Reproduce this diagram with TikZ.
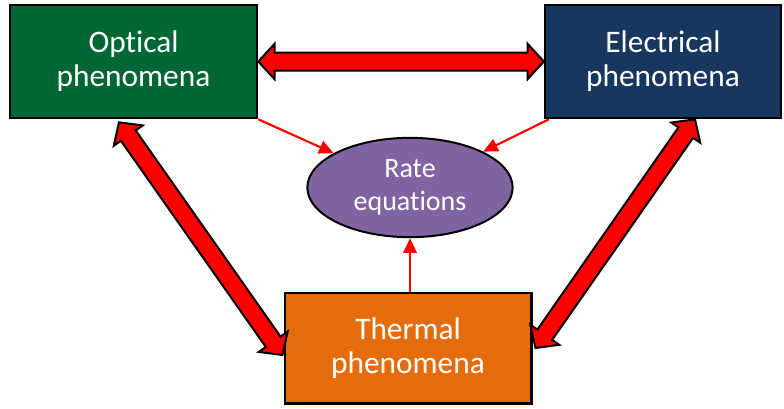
\documentclass[tikz,border=0pt]{standalone}
\usepackage{fontspec}
\setmainfont[RawFeature={-liga;-clig;-calt}]{Carlito}
\usetikzlibrary{shapes.geometric,shapes.arrows,arrows.meta,calc}

\definecolor{optgreen}{RGB}{0,102,51}
\definecolor{elenavy}{RGB}{23,55,94}
\definecolor{thermorange}{RGB}{228,108,10}
\definecolor{ratepurple}{RGB}{128,100,162}

\newcommand{\linkarrow}[2]{%
    \path let \p1=($(#2)-(#1)$), \n1={veclen(\x1,\y1)}, \n2={atan2(\y1,\x1)}
        in node[bigarrow, minimum height=\n1, rotate=\n2] at ($(#1)!0.5!(#2)$) {};}

\begin{document}
\begin{tikzpicture}[x=0.75pt, y=-0.75pt,
        box/.style={draw=black, line width=1.75pt, text=white, align=center,
                    font=\fontsize{23.5}{25.5}\selectfont, inner sep=0pt},
        rate/.style={ellipse, draw=black, line width=1.5pt, fill=ratepurple,
                     text=white, align=center, inner sep=0pt,
                     font=\fontsize{21}{24.75}\selectfont},
        bigarrow/.style={double arrow, draw=black, line width=1.5pt, fill=red,
                         inner xsep=0pt, inner ysep=6pt,
                         double arrow head extend=6.5pt, double arrow tip angle=95},
        feed/.style={red, line width=1.6pt, -{Triangle[length=11pt,width=10pt]}}
    ]
    \useasboundingbox (0,0) rectangle (784,408);

    \node[box, fill=optgreen, minimum width=185.5pt, minimum height=85pt] (opt) at (133.5,61.5) {Optical\\phenomena};
    \node[box, fill=elenavy, minimum width=177pt, minimum height=85pt] (ele) at (663,61.5) {Electrical\\phenomena};
    \node[box, fill=thermorange, minimum width=185pt, minimum height=83pt] (therm) at (408,348) {Thermal\\phenomena};
    \node[rate, minimum width=154pt, minimum height=74.5pt] (eq) at (410,187.5) {Rate\\equations};

    \coordinate (optb) at ([xshift=-10.9pt,yshift=-2.25pt]opt.south);
    \coordinate (thl) at ([xshift=-0.75pt,yshift=-5.25pt]therm.west);
    \coordinate (eleb) at ([xshift=24pt]ele.south);
    \coordinate (thr) at ([xshift=2.25pt]therm.east);

    \linkarrow{opt.east}{ele.west}
    \linkarrow{optb}{thl}
    \linkarrow{eleb}{thr}

    \draw[feed] (opt.south east) -- (eq);
    \draw[feed] ([xshift=3.75pt]ele.south west) -- (eq);
    \draw[feed] (eq.south |- therm.north) -- (eq.south);
\end{tikzpicture}
\end{document}
